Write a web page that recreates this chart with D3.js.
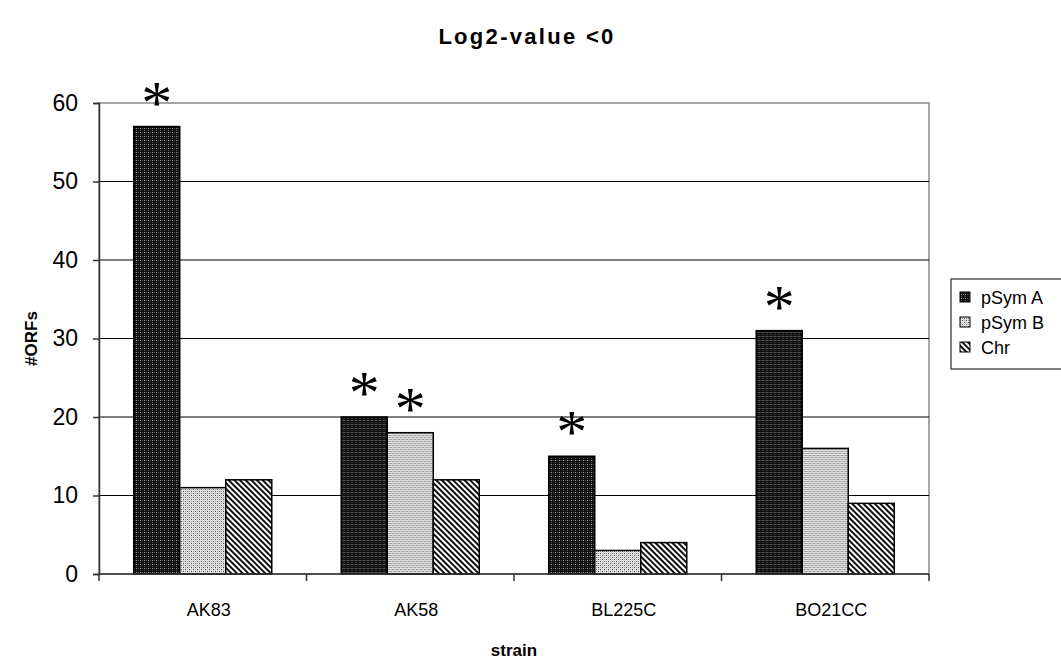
<!DOCTYPE html>
<html>
<head>
<meta charset="utf-8">
<script src="https://cdn.jsdelivr.net/npm/d3@7"></script>
<style>
  body { margin: 0; background: #fff; }
  text { font-family: "Liberation Sans", Arial, sans-serif; }
</style>
</head>
<body>
<svg id="chart" width="1061" height="663"></svg>
<script>
// chart data
var strains = ["AK83", "AK58", "BL225C", "BO21CC"];
var series = ["pSymA", "pSymB", "Chr"];
var pSymA = [57, 20, 15, 31];
var pSymB = [11, 18, 3, 16];
var Chr = [12, 12, 4, 9];
var yTicks = [0, 10, 20, 30, 40, 50, 60];
// which bars carry a star
var starred = [["AK83", "pSymA"], ["AK58", "pSymA"], ["AK58", "pSymB"], ["BL225C", "pSymA"], ["BO21CC", "pSymA"]];

var values = { pSymA: pSymA, pSymB: pSymB, Chr: Chr };

var svg = d3.select("#chart");
var margin = { top: 103, right: 132, bottom: 89, left: 99 };
var width = 1061 - margin.left - margin.right,
  height = 663 - margin.top - margin.bottom;

// fill patterns
var defs = svg.append("defs");
var pA = defs.append("pattern").attr("id", "patA").attr("patternUnits", "userSpaceOnUse")
  .attr("width", 4).attr("height", 4);
pA.append("rect").attr("width", 4).attr("height", 4).attr("fill", "#111");
pA.append("rect").attr("x", 1).attr("y", 1).attr("width", 1).attr("height", 1).attr("fill", "#999");
pA.append("rect").attr("x", 3).attr("y", 1).attr("width", 1).attr("height", 1).attr("fill", "#555");
pA.append("rect").attr("x", 1).attr("y", 3).attr("width", 1).attr("height", 1).attr("fill", "#555");

var pB = defs.append("pattern").attr("id", "patB").attr("patternUnits", "userSpaceOnUse")
  .attr("width", 4).attr("height", 4);
pB.append("rect").attr("width", 4).attr("height", 4).attr("fill", "#e2e2e2");
pB.append("rect").attr("x", 0).attr("y", 0).attr("width", 1).attr("height", 1).attr("fill", "#555");
pB.append("rect").attr("x", 2).attr("y", 2).attr("width", 1).attr("height", 1).attr("fill", "#555");
pB.append("rect").attr("x", 2).attr("y", 0).attr("width", 1).attr("height", 1).attr("fill", "#999");
pB.append("rect").attr("x", 0).attr("y", 2).attr("width", 1).attr("height", 1).attr("fill", "#999");

var pC = defs.append("pattern").attr("id", "patC").attr("patternUnits", "userSpaceOnUse")
  .attr("width", 4).attr("height", 4).attr("patternTransform", "rotate(-45)");
pC.append("rect").attr("width", 4).attr("height", 4).attr("fill", "#fff");
pC.append("rect").attr("width", 2).attr("height", 4).attr("fill", "#111");

var fills = { pSymA: "url(#patA)", pSymB: "url(#patB)", Chr: "url(#patC)" };

var g = svg.append("g").attr("transform", "translate(" + margin.left + "," + margin.top + ")");

var x0 = d3.scaleBand().domain(strains).range([0, width]).padding(0);
var x1 = d3.scaleBand().domain(series).range([0, x0.bandwidth()]).paddingInner(0).paddingOuter(0.755);
var y = d3.scaleLinear().domain([0, 60]).range([height, 0]);

// plot area border
g.append("rect").attr("width", width).attr("height", height)
  .attr("fill", "none").attr("stroke", "#888").attr("stroke-width", 1.5);

// gridlines
g.selectAll(".grid").data(yTicks.filter(function(d) { return d > 0 && d < 60; }))
  .enter().append("line")
  .attr("x1", 0).attr("x2", width)
  .attr("y1", function(d) { return y(d); }).attr("y2", function(d) { return y(d); })
  .attr("stroke", "#000").attr("stroke-width", 1);

// bars
var groups = g.selectAll(".grp").data(strains).enter().append("g")
  .attr("transform", function(d) { return "translate(" + x0(d) + ",0)"; });
groups.selectAll("rect").data(function(d, i) {
  return series.map(function(s) { return { strain: d, key: s, value: values[s][i] }; });
}).enter().append("rect")
  .attr("x", function(d) { return x1(d.key); })
  .attr("y", function(d) { return y(d.value); })
  .attr("width", x1.bandwidth())
  .attr("height", function(d) { return height - y(d.value); })
  .attr("fill", function(d) { return fills[d.key]; })
  .attr("stroke", "#000").attr("stroke-width", 1.5);

// stars
g.selectAll(".star").data(starred).enter().append("text")
  .attr("x", function(d) { return x0(d[0]) + x1(d[1]) + x1.bandwidth() / 2; })
  .attr("y", function(d) { return y(values[d[1]][strains.indexOf(d[0])]) - 4; })
  .attr("text-anchor", "middle")
  .style("font-family", "'Liberation Serif', 'Times New Roman', serif")
  .style("font-size", "62px")
  .text("*");

// axes
var yAxis = g.append("g").call(d3.axisLeft(y).tickValues(yTicks).tickSize(6).tickPadding(15));
yAxis.select(".domain").attr("stroke", "#333").attr("stroke-width", 1.5);
yAxis.selectAll(".tick line").attr("stroke", "#333").attr("stroke-width", 1.5);
yAxis.selectAll("text").style("font-size", "23px").attr("fill", "#000");

var xAxis = g.append("g").attr("transform", "translate(0," + height + ")");
xAxis.append("line").attr("x1", 0).attr("x2", width).attr("stroke", "#333").attr("stroke-width", 1.5);
xAxis.selectAll(".xt").data(d3.range(strains.length + 1)).enter().append("line")
  .attr("x1", function(i) { return i * x0.step(); }).attr("x2", function(i) { return i * x0.step(); })
  .attr("y1", 0).attr("y2", 7).attr("stroke", "#333").attr("stroke-width", 1.5);
xAxis.selectAll(".xl").data(strains).enter().append("text")
  .attr("x", function(d) { return x0(d) + x0.bandwidth() / 2 + 6; })
  .attr("y", 42)
  .attr("text-anchor", "middle")
  .style("font-size", "18px")
  .text(function(d) { return d; });

// titles
svg.append("text").attr("x", 527).attr("y", 44).attr("text-anchor", "middle")
  .style("font-size", "22px").style("font-weight", "bold").style("letter-spacing", "2.3px")
  .text("Log2-value <0");
svg.append("text").attr("x", margin.left + width / 2).attr("y", 656).attr("text-anchor", "middle")
  .style("font-size", "17px").style("font-weight", "bold")
  .text("strain");
svg.append("text").attr("transform", "translate(37," + (margin.top + height / 2) + ") rotate(-90)")
  .attr("text-anchor", "middle")
  .style("font-size", "17px").style("font-weight", "bold")
  .text("#ORFs");

// legend
var lg = svg.append("g").attr("transform", "translate(951,279)");
lg.append("rect").attr("width", 130).attr("height", 90)
  .attr("fill", "#fff").attr("stroke", "#000").attr("stroke-width", 1);
var items = lg.selectAll(".li").data(series).enter().append("g")
  .attr("transform", function(d, i) { return "translate(9," + (18 + i * 25) + ")"; });
items.append("rect").attr("x", 0).attr("y", -5).attr("width", 10).attr("height", 10)
  .attr("fill", function(d) { return fills[d]; }).attr("stroke", "#000");
items.append("text").attr("x", 21).attr("y", 7)
  .style("font-size", "18px")
  .text(function(d) { return d.replace("pSym", "pSym "); });
</script>
</body>
</html>
